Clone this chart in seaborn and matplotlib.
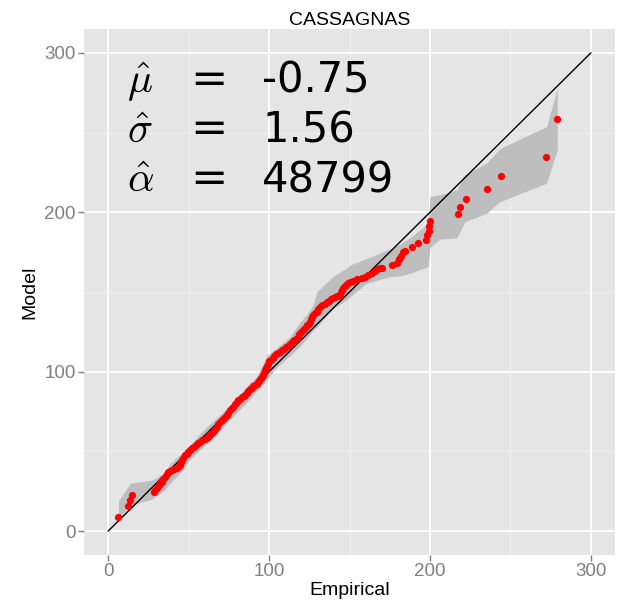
import matplotlib
matplotlib.use("Agg")
import matplotlib.pyplot as plt
import numpy as np
import pandas as pd
import seaborn as sns

# valeurs
empirical = [6.4, 12.6, 13.7, 15.1,
             28.6, 29.2, 30.2, 31.3, 32.3, 33.3, 34.3, 35.4, 36.4, 37.5, 38.5, 39.5, 41.0, 43.0, 43.8, 44.7,
             45.3, 45.8, 46.8, 47.8, 48.8, 49.9, 50.9, 52.3, 53.5, 54.5, 55.8, 57.1, 58.6, 60.0, 61.3, 62.5,
             63.5, 64.4, 65.5, 66.5, 67.5, 68.5, 69.6, 70.6, 71.8, 73.0, 73.7, 74.8, 76.0, 77.0, 77.8, 79.0,
             80.0, 80.9, 82.0, 83.3, 84.2, 85.1, 86.0, 87.2, 88.2, 89.2, 90.3, 91.3, 92.3, 93.4, 94.0, 94.6,
             95.4, 96.0, 96.8, 97.5, 98.2, 98.8, 99.4, 100.2, 101.2, 102.2, 103.2, 104.4, 105.5, 106.8, 108.0,
             109.4, 110.8, 112.0, 113.3, 114.5, 115.6, 116.7, 117.8, 118.8, 119.8, 120.8, 121.8, 122.8, 123.8,
             124.8, 125.6, 126.2, 126.8, 127.5, 128.5, 129.5, 130.6, 131.8, 133.0, 134.5, 135.8, 137.0, 138.4,
             139.6, 140.8, 142.0, 143.2, 144.1, 144.8, 145.5, 146.2, 147.0, 148.0, 149.3, 150.5, 152.4, 154.9,
             157.5, 159.6, 161.7, 163.8, 165.8, 167.0, 168.9, 170.0, 176.6, 179.3, 180.7, 182.0, 183.0, 184.3,
             188.6, 192.8, 197.3, 198.3, 199.2, 199.6, 200.0, 217.2, 218.6, 222.2, 235.6, 244.1, 272.0, 279.1]
model = [9.0, 15.7, 19.5, 22.6,
         24.5, 25.7, 27.0, 28.9, 30.0, 31.0, 32.6, 34.1, 35.7, 37.2, 37.8, 38.3, 38.9, 39.5, 40.6, 41.6,
         43.2, 44.6, 45.8, 47.5, 48.6, 49.8, 50.6, 51.9, 53.0, 53.8, 55.0, 56.1, 56.9, 57.6, 58.4, 59.8,
         61.0, 61.6, 63.0, 64.3, 65.5, 66.9, 68.4, 69.7, 70.9, 72.0, 72.9, 74.4, 76.0, 77.0, 78.0, 79.5,
         81.0, 82.0, 82.9, 84.0, 84.8, 85.6, 86.8, 88.2, 89.3, 90.0, 90.8, 91.6, 92.5, 93.4, 94.2, 95.3,
         96.8, 98.0, 99.4, 100.8, 102.3, 103.6, 105.0, 106.4, 107.6, 108.6, 109.8, 110.8, 111.7, 112.5, 113.4,
         114.4, 115.4, 116.4, 117.6, 118.6, 119.8, 120.8, 122.0, 123.4, 125.0, 126.0, 127.1, 128.2, 129.0,
         129.8, 131.2, 132.8, 134.3, 135.6, 136.6, 137.4, 139.6, 140.6, 141.6, 142.6, 143.6, 144.6, 145.6,
         146.3, 146.8, 147.2, 147.8, 148.4, 149.8, 151.0, 152.3, 153.6, 154.6, 155.6, 156.2, 157.0, 158.0,
         158.8, 159.6, 160.7, 162.2, 163.4, 164.2, 164.9, 165.3, 167.0, 168.4, 170.5, 172.8, 174.9, 176.0,
         178.5, 180.6, 182.7, 185.8, 188.5, 191.7, 194.8, 198.8, 203.2, 208.4, 214.7, 222.9, 234.8, 258.4]

# enveloppe (bande grise)
env_x = [6.4, 13.7, 27.1, 29.2, 35.4, 38.5, 44.7, 50.9, 59.2, 69.6, 75.8, 88.2, 92.4, 98.6, 104.8,
         113.0, 119.3, 123.4, 127.5, 129.6, 140.0, 148.3, 150.3, 160.7, 171.0, 175.2, 181.4, 187.6, 199.0,
         200.0, 206.2, 216.6, 217.6, 221.7, 235.2, 243.5, 272.5, 279.1]
env_lo = [8, 16, 20, 21.5, 26, 30, 36.5, 45, 53, 63.4, 70, 83, 88, 95, 103,
          110, 116, 121, 126, 128, 139.8, 145, 147, 155.5, 158.5, 159.6, 160.1, 161.8, 166,
          178, 183.1, 184, 186, 194, 199.4, 206.7, 218.3, 239.2]
env_hi = [19, 30, 32, 33, 37, 42.5, 48, 54, 63.5, 73, 79, 93, 97, 110, 115,
          122, 131, 136, 142, 150, 160, 165, 167, 171, 175.3, 177, 180, 184, 193,
          210, 211, 214, 216, 223.5, 231, 240, 253.8, 278]

diag = [0, 300]

labels = [r"$\hat{\mu}$", r"$\hat{\sigma}$", r"$\hat{\alpha}$"]
valeurs = ["-0.75", "1.56", "48799"]

df = pd.DataFrame({"Empirical": empirical, "Model": model})

#%%
sns.set_style("darkgrid", {"axes.facecolor": "#E5E5E5", "grid.color": "white"})
plt.rcParams["font.family"] = ["Liberation Sans", "DejaVu Sans"]
plt.rcParams["text.color"] = "black"
plt.rcParams["axes.labelcolor"] = "black"

fig = plt.figure(figsize=(6.19, 6.03), dpi=100)
ax = fig.add_axes([84 / 619, 1 - 555 / 603, 531 / 619, 526 / 603])

ax.fill_between(env_x, env_lo, env_hi, color="#BEBEBE", linewidth=0, zorder=2)
sns.lineplot(x=diag, y=diag, color="black", linewidth=1.0, ax=ax, zorder=3)
sns.scatterplot(data=df, x="Empirical", y="Model", color="red", s=27, linewidth=0, ax=ax, zorder=4)

ax.set_xlim(-15, 315)
ax.set_ylim(-15, 315)
ax.set_xticks([0, 100, 200, 300])
ax.set_yticks([0, 100, 200, 300])
ax.set_xticks([50, 150, 250], minor=True)
ax.set_yticks([50, 150, 250], minor=True)
ax.grid(which="major", color="white", linewidth=1.3)
ax.grid(which="minor", color="#F2F2F2", linewidth=0.6)
ax.set_axisbelow(True)
for sp in ax.spines.values():
    sp.set_visible(False)

ax.tick_params(which="major", length=4, width=1, color="#7F7F7F", labelsize=13.5,
               labelcolor="#7F7F7F", pad=2, bottom=True, left=True)
ax.tick_params(which="minor", length=0)

ax.set_xlabel("Empirical", fontsize=14, labelpad=1, color="black")
ax.set_ylabel("Model", fontsize=14, labelpad=4, color="black")
ax.set_title("CASSAGNAS", fontsize=14, pad=3, color="black")

# paramètres estimés
for i, (lab, val) in enumerate(zip(labels, valeurs)):
    yb = 275 - i * 31.2
    ax.text(11.8, yb, lab, fontsize=30, math_fontfamily="cm", va="baseline", ha="left",
            color="black", zorder=5)
    ax.text(51.0, yb, "=", fontsize=32, family="DejaVu Sans", va="baseline", ha="left",
            color="black", zorder=5)
    ax.text(95.7, yb, val, fontsize=30, family="DejaVu Sans", va="baseline", ha="left",
            color="black", zorder=5)

plt.savefig("out.png", dpi=100)
